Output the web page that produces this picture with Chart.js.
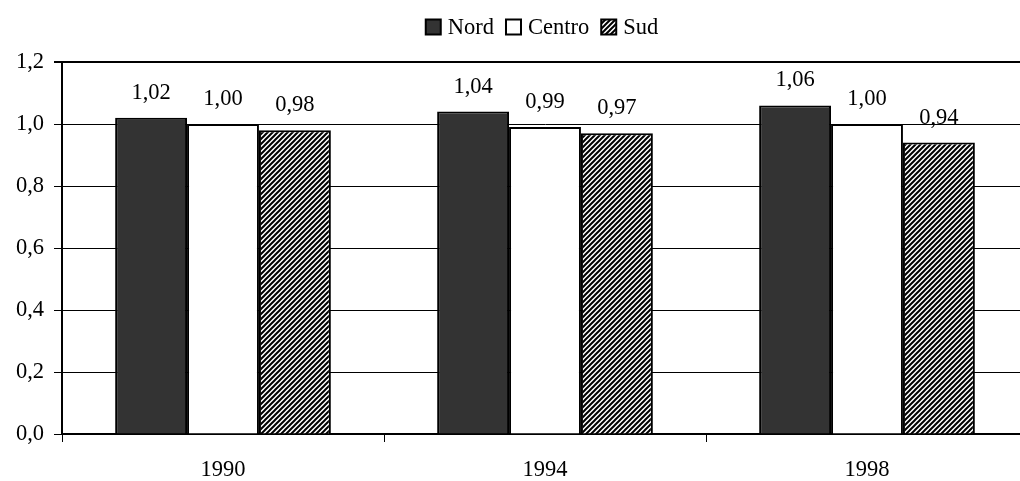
<!DOCTYPE html>
<html>
<head>
<meta charset="utf-8">
<script src="https://cdn.jsdelivr.net/npm/chart.js@4"></script>
<style>
  body { margin: 0; background: #fff; overflow: hidden; }
  #wrap { width: 1020px; height: 481px; overflow: hidden; }
</style>
</head>
<body>
<div id="wrap"><canvas id="c" width="1030" height="481"></canvas></div>
<script>
const years = ['1990', '1994', '1998'];
const nord = [1.02, 1.04, 1.06];
const centro = [1.00, 0.99, 1.00];
const sud = [0.98, 0.97, 0.94];
const seriesNames = ['Nord', 'Centro', 'Sud'];

const FONT = '"Liberation Serif", "Times New Roman", serif';
const FSIZE = 22.5;

// hatch pattern for Sud (diagonal stripes)
function makeHatch() {
  const s = 5;
  const cv = document.createElement('canvas');
  cv.width = s; cv.height = s;
  const g = cv.getContext('2d');
  g.fillStyle = '#fff';
  g.fillRect(0, 0, s, s);
  g.strokeStyle = '#000';
  g.lineWidth = 2;
  g.beginPath();
  g.moveTo(-1, s + 1); g.lineTo(s + 1, -1);
  g.moveTo(-1, 1); g.lineTo(1, -1);
  g.moveTo(s - 1, s + 1); g.lineTo(s + 1, s - 1);
  g.stroke();
  return g.createPattern(cv, 'repeat');
}
const hatch = makeHatch();

const fmt = (v, d) => v.toFixed(d).replace('.', ',');

// etichette sopra le barre
const valueLabels = {
  id: 'valueLabels',
  afterDatasetsDraw(chart) {
    const ctx = chart.ctx;
    ctx.save();
    ctx.font = FSIZE + 'px ' + FONT;
    ctx.fillStyle = '#000';
    ctx.textAlign = 'center';
    ctx.textBaseline = 'middle';
    chart.data.datasets.forEach((ds, i) => {
      chart.getDatasetMeta(i).data.forEach((bar, j) => {
        ctx.fillText(fmt(ds.data[j], 2), bar.x, bar.y - 25);
      });
    });
    ctx.restore();
  }
};

// legenda in alto
const topLegend = {
  id: 'topLegend',
  afterDraw(chart) {
    const ctx = chart.ctx;
    const box = 15, gapText = 7, gapItem = 12;
    ctx.save();
    ctx.font = FSIZE + 'px ' + FONT;
    const items = chart.data.datasets.map(ds => ({ ds, w: ctx.measureText(ds.label).width }));
    let total = 0;
    items.forEach((it, i) => { total += box + gapText + it.w + (i < items.length - 1 ? gapItem : 0); });
    let x = 542 - total / 2;
    const cy = 27;
    items.forEach(it => {
      ctx.fillStyle = it.ds.backgroundColor;
      ctx.fillRect(x, cy - box / 2, box, box);
      ctx.strokeStyle = '#000';
      ctx.lineWidth = 2;
      ctx.strokeRect(x, cy - box / 2, box, box);
      ctx.fillStyle = '#000';
      ctx.textBaseline = 'middle';
      ctx.textAlign = 'left';
      ctx.fillText(it.ds.label, x + box + gapText, cy + 1);
      x += box + gapText + it.w + gapItem;
    });
    ctx.restore();
  }
};

new Chart(document.getElementById('c'), {
  type: 'bar',
  data: {
    labels: years,
    datasets: [
      { label: seriesNames[0], data: nord, backgroundColor: '#333333', borderColor: '#000', borderWidth: 2 },
      { label: seriesNames[1], data: centro, backgroundColor: '#ffffff', borderColor: '#000', borderWidth: 2 },
      { label: seriesNames[2], data: sud, backgroundColor: hatch, borderColor: '#000', borderWidth: 2 }
    ]
  },
  options: {
    responsive: false,
    animation: false,
    layout: { padding: { top: 62, right: 2, left: 0, bottom: 0 } },
    datasets: { bar: { categoryPercentage: 0.67, barPercentage: 1 } },
    scales: {
      x: {
        offset: true,
        afterFit(s) { s.height = 47; },
        grid: { drawOnChartArea: false, offset: true, tickLength: 8, color: '#000', lineWidth: 1 },
        border: { color: '#000', width: 2 },
        ticks: { color: '#000', padding: 15, font: { family: FONT, size: FSIZE } }
      },
      y: {
        min: 0, max: 1.2,
        afterFit(s) { s.width = 62; },
        grid: {
          tickLength: 8,
          color: '#000',
          lineWidth: c => (Math.abs(c.tick.value - 1.2) < 1e-6 ? 2 : 1)
        },
        border: { color: '#000', width: 2 },
        ticks: {
          stepSize: 0.2, color: '#000', padding: 10,
          font: { family: FONT, size: FSIZE },
          callback: v => fmt(v, 1)
        }
      }
    },
    plugins: {
      legend: { display: false },
      tooltip: { enabled: false }
    }
  },
  plugins: [valueLabels, topLegend]
});
</script>
</body>
</html>
